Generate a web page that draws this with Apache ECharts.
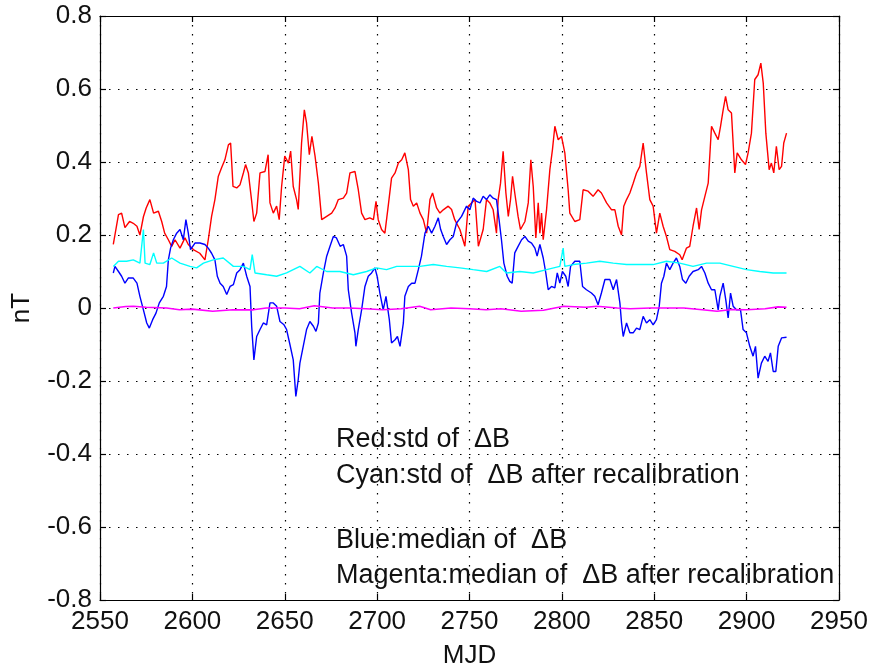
<!DOCTYPE html>
<html>
<head>
<meta charset="utf-8">
<script src="https://cdn.jsdelivr.net/npm/echarts@6/dist/echarts.min.js"></script>
<style>html,body{margin:0;padding:0;background:#fff}#c{width:871px;height:666px}</style>
</head>
<body>
<div id="c"></div>
<script>
// [MJD, nT]
var redData = [[2557.2,0.174],[2560,0.256],[2561.7,0.26],[2563.5,0.22],[2566,0.237],[2568,0.232],[2570,0.224],[2571.6,0.2],[2573.5,0.25],[2575,0.274],[2577,0.297],[2579,0.26],[2581.6,0.265],[2583.4,0.237],[2585,0.205],[2587,0.187],[2588.8,0.169],[2590.6,0.187],[2593.3,0.164],[2596,0.192],[2597.8,0.174],[2600.5,0.16],[2604,0.15],[2606.8,0.132],[2608.6,0.187],[2610.4,0.251],[2612.2,0.297],[2614,0.36],[2615.8,0.384],[2617.6,0.406],[2619.5,0.447],[2620.7,0.452],[2622,0.333],[2624,0.329],[2625.8,0.338],[2627.6,0.37],[2628.8,0.393],[2630.3,0.37],[2632,0.297],[2633.3,0.237],[2634.8,0.26],[2636.6,0.37],[2639.3,0.374],[2641,0.42],[2642,0.288],[2643.8,0.26],[2645.6,0.279],[2647,0.242],[2648.3,0.333],[2650,0.416],[2652,0.397],[2653.2,0.43],[2654.6,0.333],[2656.4,0.297],[2657.3,0.27],[2659.1,0.452],[2660.6,0.543],[2661.8,0.507],[2663.3,0.42],[2664.7,0.47],[2666.4,0.416],[2668.2,0.342],[2670,0.242],[2672.7,0.251],[2675.4,0.26],[2677.2,0.274],[2679,0.297],[2681.7,0.301],[2683.5,0.315],[2685.3,0.37],[2688,0.374],[2689.8,0.324],[2691.6,0.26],[2693.4,0.242],[2696,0.247],[2698,0.242],[2699.4,0.292],[2700.6,0.242],[2702.4,0.215],[2704.2,0.205],[2706,0.279],[2707.8,0.356],[2709.7,0.37],[2711.5,0.397],[2713.3,0.406],[2715,0.425],[2716.9,0.379],[2718.1,0.297],[2719.6,0.279],[2721.4,0.288],[2723.2,0.26],[2725,0.242],[2726.8,0.205],[2728.6,0.297],[2730,0.315],[2732.2,0.274],[2734,0.26],[2735.8,0.269],[2738.5,0.279],[2740.3,0.27],[2742,0.242],[2744.8,0.215],[2747.5,0.169],[2749.3,0.279],[2751.1,0.288],[2753,0.297],[2754.8,0.169],[2757.4,0.215],[2759.2,0.297],[2761,0.288],[2762.8,0.269],[2764.6,0.205],[2765.5,0.297],[2766.8,0.342],[2768.2,0.429],[2769.7,0.315],[2771,0.251],[2772.2,0.297],[2773.3,0.361],[2774.5,0.315],[2776.3,0.251],[2777.6,0.215],[2780,0.237],[2781.8,0.288],[2783.2,0.406],[2784.5,0.333],[2785.9,0.192],[2787.2,0.288],[2788.1,0.205],[2789,0.26],[2789.9,0.187],[2791.7,0.269],[2793.5,0.379],[2794.9,0.434],[2796.2,0.498],[2798,0.461],[2799.8,0.47],[2801.6,0.425],[2803.4,0.324],[2804.3,0.26],[2807,0.237],[2809.7,0.242],[2811.5,0.324],[2814.2,0.32],[2816.9,0.306],[2819.6,0.324],[2821.4,0.315],[2824.2,0.288],[2826.9,0.269],[2828.7,0.269],[2830.5,0.224],[2832.3,0.2],[2833.5,0.279],[2835,0.297],[2836.8,0.315],[2838.6,0.342],[2840.4,0.37],[2842.2,0.388],[2844,0.452],[2845.8,0.37],[2847.6,0.297],[2849.4,0.279],[2851.2,0.205],[2853,0.26],[2854.8,0.224],[2856.6,0.196],[2858.4,0.16],[2861.1,0.155],[2863.8,0.146],[2865.1,0.132],[2867.4,0.164],[2869.2,0.169],[2871,0.224],[2872.9,0.274],[2874.3,0.215],[2875.6,0.269],[2877.4,0.306],[2879.2,0.342],[2881,0.498],[2882.8,0.479],[2884.6,0.461],[2885.9,0.498],[2887.3,0.543],[2888.6,0.58],[2890,0.543],[2891.8,0.534],[2893.6,0.37],[2894.9,0.425],[2897.2,0.406],[2899.4,0.393],[2900.8,0.425],[2902.6,0.479],[2904.4,0.626],[2906.2,0.639],[2907.7,0.671],[2909,0.616],[2910.4,0.479],[2912.2,0.379],[2913.4,0.397],[2914.7,0.37],[2916.1,0.443],[2917.6,0.379],[2918.9,0.388],[2920.1,0.452],[2921.6,0.479]];

var blueData = [[2557.2,0.096],[2558.1,0.114],[2560,0.1],[2561.7,0.087],[2563.5,0.068],[2565.3,0.082],[2568,0.082],[2570,0.068],[2571.6,0.032],[2573.5,-0.005],[2575.3,-0.041],[2576.7,-0.055],[2578.5,-0.032],[2580.3,-0.014],[2582.1,0.014],[2584.3,0.032],[2586,0.059],[2587,0.132],[2588.2,0.164],[2589.7,0.187],[2591.5,0.205],[2593.3,0.215],[2595.1,0.187],[2596.5,0.242],[2597.8,0.205],[2599,0.16],[2601.4,0.178],[2604.1,0.178],[2606.8,0.174],[2608.6,0.164],[2610.4,0.15],[2612.2,0.132],[2613.5,0.087],[2615,0.068],[2616.7,0.059],[2618.6,0.037],[2620.4,0.059],[2622.2,0.064],[2624,0.096],[2625.8,0.105],[2627.6,0.123],[2629.4,0.087],[2631.2,0.059],[2632.1,-0.05],[2633.3,-0.142],[2634.8,-0.078],[2636.6,-0.059],[2638.4,-0.041],[2640.2,-0.046],[2642,0.014],[2643.8,0.014],[2645.6,0.005],[2647.4,-0.037],[2649.6,-0.046],[2651,-0.059],[2652.8,-0.1],[2654.6,-0.142],[2656,-0.242],[2657.3,-0.196],[2658.2,-0.151],[2660,-0.105],[2661.8,-0.059],[2663.6,-0.037],[2665.5,-0.05],[2666.9,-0.064],[2668.2,-0.041],[2669,0.041],[2670.9,0.096],[2672.7,0.142],[2674.5,0.169],[2676.3,0.196],[2678,0.192],[2680,0.169],[2681.7,0.174],[2683.5,0.142],[2684.4,0.05],[2686.2,-0.014],[2688,-0.068],[2688.5,-0.105],[2689.8,-0.059],[2691.6,-0.005],[2693.4,0.059],[2695.2,0.087],[2697,0.096],[2698.8,0.11],[2700,0.087],[2701.5,0.041],[2703.3,-0.005],[2704.8,0.032],[2706.6,-0.032],[2707.8,-0.096],[2709.7,-0.087],[2711,-0.078],[2712.4,-0.105],[2714.2,-0.041],[2715,0.032],[2716.9,0.059],[2718.7,0.068],[2720.5,0.068],[2722.3,0.105],[2724,0.142],[2725.9,0.205],[2727.7,0.224],[2729.5,0.205],[2731.3,0.224],[2733.1,0.247],[2734.4,0.215],[2735.8,0.196],[2737.6,0.174],[2739.4,0.187],[2741.2,0.196],[2743,0.233],[2745.7,0.251],[2748.4,0.279],[2750.2,0.269],[2752,0.301],[2753.9,0.292],[2755.7,0.288],[2757.4,0.306],[2759.2,0.297],[2761,0.31],[2762.8,0.301],[2764.6,0.297],[2766,0.242],[2767.3,0.187],[2768.6,0.123],[2770.4,0.087],[2771.8,0.073],[2773.1,0.068],[2774.5,0.151],[2776.3,0.169],[2778.2,0.187],[2780,0.196],[2781.8,0.183],[2783.6,0.178],[2785.4,0.164],[2786.6,0.142],[2788.1,0.174],[2789.9,0.137],[2791.3,0.096],[2792.6,0.05],[2794.4,0.059],[2796.2,0.055],[2797.5,0.096],[2798.9,0.068],[2800.3,0.1],[2802.1,0.087],[2803.4,0.059],[2804.7,0.114],[2807,0.128],[2809.7,0.128],[2811.2,0.059],[2813.3,0.05],[2816,0.041],[2817.8,0.032],[2819.6,0.009],[2821.4,0.041],[2823.3,0.078],[2826,0.078],[2827.8,0.05],[2829.6,0.078],[2831.4,0.014],[2832.3,-0.041],[2833.2,-0.078],[2835,-0.041],[2836.8,-0.068],[2838.6,-0.068],[2840.4,-0.055],[2842.2,-0.059],[2844,-0.023],[2845.8,-0.041],[2847.6,-0.032],[2849.4,-0.046],[2851.2,-0.032],[2852.7,0.005],[2853.9,0.068],[2855.2,0.087],[2856.6,0.123],[2858.4,0.105],[2860.2,0.123],[2862,0.137],[2863.8,0.114],[2865.3,0.078],[2867.1,0.068],[2868.9,0.087],[2871,0.1],[2873.8,0.105],[2875.6,0.114],[2877.4,0.096],[2879.2,0.068],[2881,0.05],[2882.8,0.05],[2884.6,-0.005],[2885.5,0.032],[2887.3,0.068],[2888.7,0.023],[2890,-0.027],[2891.3,0.041],[2892.7,0.005],[2894.5,-0.005],[2896.7,-0.005],[2898.1,-0.059],[2899.9,-0.068],[2901.7,-0.105],[2903.5,-0.132],[2904.8,-0.105],[2906.2,-0.192],[2908,-0.151],[2909.8,-0.132],[2911.6,-0.146],[2912.9,-0.123],[2914.4,-0.174],[2915.8,-0.174],[2917.1,-0.105],[2918.9,-0.082],[2921.6,-0.08]];

var cyanData = [[2557.2,0.114],[2560,0.128],[2564.4,0.128],[2568,0.132],[2571.6,0.123],[2573.5,0.215],[2574.4,0.123],[2577,0.119],[2579,0.151],[2580.7,0.123],[2584.3,0.123],[2588.8,0.137],[2593.3,0.123],[2598.7,0.114],[2602.3,0.11],[2606,0.123],[2611.3,0.132],[2616.7,0.137],[2622.2,0.114],[2627.6,0.114],[2631.2,0.105],[2632.4,0.146],[2633.9,0.096],[2640.2,0.091],[2645.6,0.087],[2651,0.096],[2658.2,0.114],[2663.6,0.096],[2667.3,0.114],[2672.7,0.1],[2679.9,0.1],[2687.1,0.091],[2694.3,0.1],[2699.7,0.11],[2705.1,0.105],[2710.6,0.114],[2716,0.114],[2723.2,0.114],[2730.4,0.119],[2737.6,0.114],[2744.8,0.11],[2752,0.105],[2759.3,0.1],[2766.4,0.114],[2770,0.096],[2777.2,0.1],[2784.5,0.096],[2791.7,0.105],[2798.9,0.114],[2800.7,0.164],[2801.6,0.114],[2806.1,0.119],[2813.3,0.123],[2820.5,0.128],[2827.8,0.123],[2835,0.119],[2842.2,0.119],[2849.4,0.119],[2856.6,0.128],[2863.8,0.123],[2871,0.114],[2878.3,0.123],[2885.5,0.123],[2892.7,0.114],[2899.9,0.105],[2907.1,0.1],[2914.4,0.096],[2921.6,0.096]];

var magentaData = [[2557.2,0.0],[2564,0.004],[2568,0.005],[2575,0.002],[2586,0.0],[2593,-0.005],[2600,-0.003],[2611,-0.009],[2622,-0.005],[2633,-0.005],[2640,0.0],[2650,0.0],[2658,-0.002],[2666,0.006],[2676,0.0],[2685,0.0],[2694,-0.002],[2703,-0.005],[2713,-0.002],[2723,0.005],[2729,-0.005],[2740,0.0],[2750,-0.002],[2759,-0.005],[2767,-0.002],[2778,-0.009],[2790,-0.006],[2801,0.005],[2813,0.002],[2819,0.005],[2830,0.0],[2837,-0.002],[2848,0.0],[2858,0.0],[2866,0.0],[2876,-0.005],[2884,-0.009],[2892,-0.004],[2900,-0.005],[2910,-0.002],[2917,0.003],[2921.6,0.002]];

var xTicks = {min: 2550, max: 2950, step: 50};
var yTicks = {min: -0.8, max: 0.8, step: 0.2};
var notes = ['Red:std of  \u0394B', 'Cyan:std of  \u0394B after recalibration', '', 'Blue:median of  \u0394B', 'Magenta:median of  \u0394B after recalibration'];

var FONT = 'Liberation Sans, Arial, sans-serif';
var gridDots = {show: true, lineStyle: {color: '#000', width: 1.2, type: [1.5, 7.5], opacity: 1}};
var axLine = {show: true, onZero: false, lineStyle: {color: '#000', width: 1.2}};
var tick = {show: true, inside: true, length: 6, lineStyle: {color: '#000', width: 1.2}};

var chart = echarts.init(document.getElementById('c'), null, {renderer: 'canvas'});

function series(name, data, color, w) {
  return {name: name, type: 'line', data: data, showSymbol: false, symbol: 'none',
    lineStyle: {color: color, width: w}, itemStyle: {color: color}, animation: false, z: 3};
}

var noteLines = [];
var noteY = [441, 477, 509, 542, 577];
notes.forEach(function (t, i) {
  if (!t) return;
  noteLines.push({type: 'text', left: 336, top: noteY[i] - 15, z: 10,
    style: {text: t, font: '27px ' + FONT, fill: '#111'}});
});

chart.setOption({
  animation: false,
  backgroundColor: '#fff',
  grid: {left: 100, right: 32, top: 16, bottom: 66, containLabel: false, outerBoundsMode: 'none'},
  xAxis: [
    {type: 'value', position: 'bottom', min: xTicks.min, max: xTicks.max, interval: xTicks.step,
      name: 'MJD', nameLocation: 'middle', nameGap: 43,
      nameTextStyle: {fontFamily: FONT, fontSize: 26, color: '#111'},
      axisLine: axLine, axisTick: tick, splitLine: gridDots,
      axisLabel: {fontFamily: FONT, fontSize: 26, color: '#111', margin: 9,
        formatter: function (v) { return String(v); }}},
    {type: 'value', position: 'top', min: xTicks.min, max: xTicks.max, interval: xTicks.step,
      axisLine: axLine, axisTick: tick, splitLine: {show: false}, axisLabel: {show: false}}
  ],
  yAxis: [
    {type: 'value', position: 'left', min: yTicks.min, max: yTicks.max, interval: yTicks.step,
      name: 'nT', nameLocation: 'middle', nameGap: 65, nameRotate: 90,
      nameTextStyle: {fontFamily: FONT, fontSize: 26, color: '#111'},
      axisLine: axLine, axisTick: tick, splitLine: gridDots,
      axisLabel: {fontFamily: FONT, fontSize: 26, color: '#111', margin: 8,
        formatter: function (v) { var r = Math.round(v * 10) / 10; return r === 0 ? '0' : String(r); }}},
    {type: 'value', position: 'right', min: yTicks.min, max: yTicks.max, interval: yTicks.step,
      axisLine: axLine, axisTick: tick, splitLine: {show: false}, axisLabel: {show: false}}
  ],
  series: [
    series('Red', redData, '#ff0000', 1.4),
    series('Blue', blueData, '#0000ff', 1.4),
    series('Cyan', cyanData, '#00ffff', 1.4),
    series('Magenta', magentaData, '#ff00ff', 1.6)
  ],
  graphic: noteLines
});
</script>
</body>
</html>
